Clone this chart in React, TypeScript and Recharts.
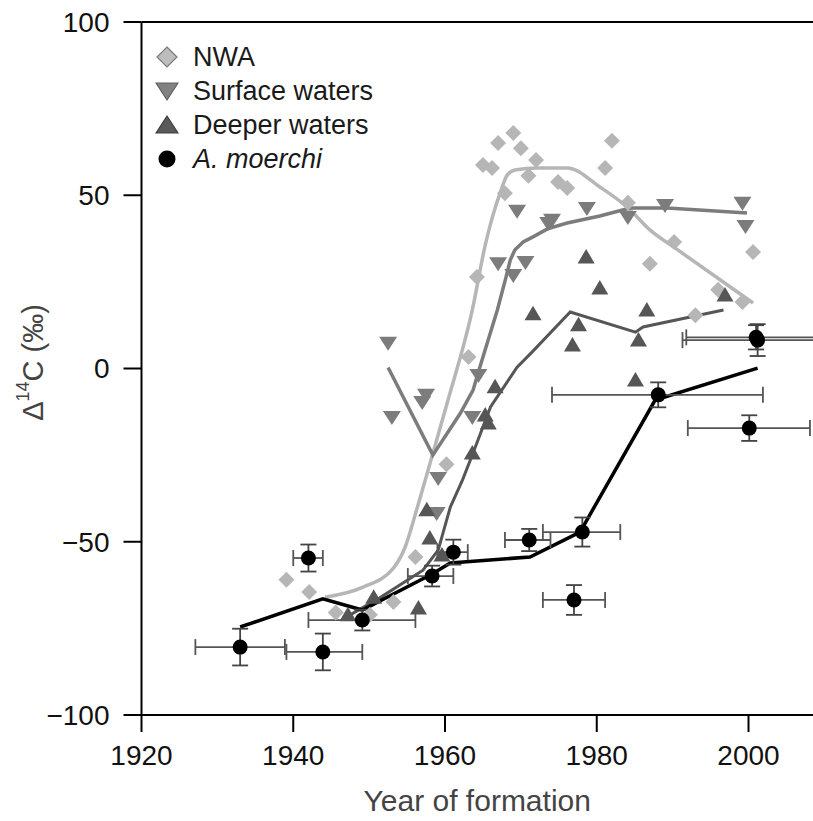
import React from 'react';
import {
  ComposedChart,
  XAxis,
  YAxis,
  Scatter,
  Line,
  ErrorBar,
  ReferenceLine,
  Legend,
} from 'recharts';

// ---------- data ----------
const xTicks = [1920, 1940, 1960, 1980, 2000];
const yTicks = [-100, -50, 0, 50, 100];

// NWA (diamonds)
const nwaYears = [1939.1, 1942.1, 1945.6, 1950.1, 1953.2, 1956.1, 1960.2, 1963.1, 1964.2, 1965.0, 1966.2, 1967.0, 1967.9, 1969.0, 1970.0, 1971.0, 1972.0, 1974.9, 1976.1, 1981.1, 1982.0, 1984.1, 1987.0, 1990.2, 1993.0, 1996.0, 1999.2, 2000.6];
const nwaValues = [-61.0, -64.5, -70.4, -71.1, -67.4, -54.4, -27.6, 3.3, 26.4, 58.7, 57.9, 65.1, 50.6, 68.0, 63.6, 55.6, 60.2, 53.8, 52.1, 57.9, 65.7, 47.8, 30.2, 36.5, 15.4, 22.7, 19.2, 33.6];

// Surface waters (down triangles)
const surfYears = [1952.5, 1953.0, 1957.0, 1957.5, 1958.9, 1959.1, 1963.6, 1964.4, 1967.0, 1969.0, 1969.5, 1970.6, 1973.6, 1974.1, 1978.7, 1984.1, 1989.0, 1999.2, 1999.6];
const surfValues = [7.4, -14.0, -9.7, -7.6, -41.7, -31.6, -14.0, -1.9, 30.4, 27.0, 45.5, 30.7, 42.0, 42.9, 46.3, 43.7, 47.2, 47.8, 41.1];

// Deeper waters (up triangles)
const deepYears = [1947.2, 1950.6, 1956.5, 1957.6, 1958.0, 1959.6, 1963.6, 1965.3, 1965.7, 1966.6, 1971.6, 1976.8, 1977.6, 1978.6, 1980.4, 1985.1, 1985.5, 1986.6, 1996.9];
const deepValues = [-71.1, -66.0, -69.1, -40.8, -48.9, -53.8, -24.4, -13.4, -15.7, -5.3, 15.8, 6.8, 12.6, 32.2, 23.2, -3.3, 8.2, 16.9, 21.2];

// A. moerchi (circles with error bars)
const amYears = [1933.0, 1943.9, 1942.0, 1949.1, 1958.3, 1961.1, 1971.1, 1978.1, 1977.0, 1988.1, 2000.1, 2001.2, 2001.0];
const amValues = [-80.4, -81.8, -54.7, -72.6, -59.9, -53.0, -49.5, -47.2, -66.8, -7.6, -17.2, 8.2, 9.0];
const amXErrMinus = [5.9, 4.8, 2.0, 7.1, 3.2, 2.1, 3.2, 5.2, 4.1, 14.0, 8.1, 9.9, 9.2];
const amXErrPlus = [5.9, 5.2, 1.9, 7.0, 2.8, 1.9, 2.8, 5.0, 4.1, 13.8, 8.0, 10.0, 10.0];
const amYErr = [5.3, 5.3, 3.9, 3.0, 3.0, 3.6, 3.2, 4.2, 4.3, 3.6, 3.7, 4.6, 3.5];

// Fitted curves
const nwaLineYears = [1944.2, 1949.2, 1953.2, 1954.7, 1956.3, 1958.4, 1960.4, 1963.6, 1965.3, 1967.3, 1968.2, 1969.2, 1972.1, 1976.1, 1980.4, 1984.0, 1987.0, 1990.3, 2000.6];
const nwaLineValues = [-66.0, -63.1, -57.6, -51.8, -40.5, -24.5, -9.1, 16.9, 35.6, 50.9, 55.8, 57.3, 57.9, 57.9, 52.4, 46.6, 40.0, 34.8, 18.9];

const surfLineYears = [1952.5, 1958.4, 1962.0, 1963.7, 1964.6, 1966.9, 1968.0, 1968.6, 1969.2, 1970.3, 1971.6, 1973.5, 1976.1, 1980.4, 1984.4, 1989.3, 1999.8];
const surfLineValues = [0.3, -25.0, -13.0, -6.2, 0.4, 16.9, 26.0, 31.3, 34.2, 36.5, 38.0, 40.3, 42.0, 44.0, 46.3, 46.3, 44.9];

const deepLineYears = [1947.5, 1951.4, 1957.1, 1959.1, 1960.7, 1962.3, 1963.7, 1966.0, 1969.5, 1971.5, 1976.5, 1985.1, 1986.1, 1996.7];
const deepLineValues = [-71.1, -66.2, -58.2, -52.4, -40.0, -32.2, -24.4, -11.1, 0.4, 4.8, 16.3, 10.5, 12.0, 16.9];

const amLineYears = [1933.0, 1943.9, 1949.1, 1958.3, 1960.7, 1971.2, 1977.8, 1987.7, 2001.2];
const amLineValues = [-74.6, -66.5, -69.7, -59.3, -56.1, -54.4, -47.2, -9.1, 0.1];

const legendNames = ['NWA', 'Surface waters', 'Deeper waters', 'A. moerchi'];

// ---------- helpers ----------
const zip = (xs: number[], ys: number[]) => xs.map((x, i) => ({ x, y: ys[i] }));

const nwaData = zip(nwaYears, nwaValues);
const surfData = zip(surfYears, surfValues);
const deepData = zip(deepYears, deepValues);
const amData = amYears.map((x, i) => ({
  x,
  y: amValues[i],
  ex: [amXErrMinus[i], amXErrPlus[i]],
  ey: amYErr[i],
}));
const nwaLine = zip(nwaLineYears, nwaLineValues);
const surfLine = zip(surfLineYears, surfLineValues);
const deepLine = zip(deepLineYears, deepLineValues);
const amLine = zip(amLineYears, amLineValues);

const FONT = '"Liberation Sans", Arial, Helvetica, sans-serif';
const C_NWA = '#b6b6b6';
const C_SURF = '#7c7c7c';
const C_DEEP = '#565656';

const fmtMinus = (v: number) => String(v).replace('-', '\u2212');

const DiamondShape = (p: any) => {
  const { cx, cy } = p;
  const r = 8;
  return <polygon points={`${cx},${cy - r} ${cx + r},${cy} ${cx},${cy + r} ${cx - r},${cy}`} fill={C_NWA} />;
};
const DownTri = (p: any) => {
  const { cx, cy } = p;
  return <polygon points={`${cx - 9},${cy - 6} ${cx + 9},${cy - 6} ${cx},${cy + 8}`} fill={C_SURF} />;
};
const UpTri = (p: any) => {
  const { cx, cy } = p;
  return <polygon points={`${cx - 8.5},${cy + 6.5} ${cx + 8.5},${cy + 6.5} ${cx},${cy - 8}`} fill={C_DEEP} />;
};
const Dot = (p: any) => {
  const { cx, cy } = p;
  return <circle cx={cx} cy={cy} r={7.5} fill="#000" />;
};

const LegendIcon = ({ i }: { i: number }) => {
  if (i === 0)
    return (
      <svg width={24} height={24}>
        <polygon points="12,2 22,12 12,22 2,12" fill="#bdbdbd" stroke="#7a7a7a" strokeWidth={1.2} />
      </svg>
    );
  if (i === 1)
    return (
      <svg width={24} height={24}>
        <polygon points="1,4 23,4 12,21" fill="#828282" stroke="#5e5e5e" strokeWidth={1.2} />
      </svg>
    );
  if (i === 2)
    return (
      <svg width={24} height={24}>
        <polygon points="1,20 23,20 12,3" fill="#5a5a5a" stroke="#3e3e3e" strokeWidth={1.2} />
      </svg>
    );
  return (
    <svg width={24} height={24}>
      <circle cx={12} cy={12} r={8.5} fill="#000" />
    </svg>
  );
};

const LegendContent = () => (
  <div style={{ fontFamily: FONT, fontSize: 27, color: '#1a1a1a' }}>
    {legendNames.map((n, i) => (
      <div key={n} style={{ display: 'flex', alignItems: 'center', height: 34 }}>
        <LegendIcon i={i} />
        <span style={{ marginLeft: 14, fontStyle: i === 3 ? 'italic' : 'normal', whiteSpace: 'nowrap' }}>{n}</span>
      </div>
    ))}
  </div>
);

const YLabel = (props: any) => {
  const vb = props.viewBox || {};
  const cx = 33;
  const cy = (vb.y ?? 22) + (vb.height ?? 693) / 2 - 6;
  return (
    <text
      x={cx}
      y={cy}
      transform={`rotate(-90 ${cx} ${cy})`}
      textAnchor="middle"
      dominantBaseline="central"
      fontSize={29}
      fontFamily={FONT}
      fill="#444"
    >
      Δ
      <tspan dy={-10} fontSize={18}>14</tspan>
      <tspan dy={10}>C (‰)</tspan>
    </text>
  );
};

export default function App() {
  return (
    <div style={{ position: 'absolute', left: 0, top: 0, width: 813, height: 821, background: '#fff' }}>
      <ComposedChart width={813} height={821} margin={{ top: 22, right: 0, bottom: 0, left: 0 }}>
        <XAxis
          type="number"
          dataKey="x"
          domain={[1920, 2008.5]}
          allowDataOverflow
          ticks={xTicks}
          height={106}
          tickSize={17}
          tickMargin={13}
          stroke="#000"
          strokeWidth={2}
          tick={{ fill: '#111', fontSize: 28, fontFamily: FONT }}
          label={{ value: 'Year of formation', position: 'insideBottom', offset: 10, fontSize: 30, fill: '#444', fontFamily: FONT }}
        />
        <YAxis
          type="number"
          dataKey="y"
          domain={[-100, 100]}
          allowDataOverflow
          ticks={yTicks}
          tickFormatter={fmtMinus}
          width={141.5}
          tickSize={18}
          tickMargin={14}
          stroke="#000"
          strokeWidth={2}
          tick={{ fill: '#111', fontSize: 28, fontFamily: FONT }}
          label={<YLabel />}
        />
        <ReferenceLine y={100} stroke="#000" strokeWidth={2} />
        <Legend
          layout="vertical"
          align="center"
          verticalAlign="middle"
          content={<LegendContent />}
          wrapperStyle={{ left: 155, top: 40, width: 260, height: 140 }}
        />
        <Scatter name="NWA" data={nwaData} dataKey="y" shape={<DiamondShape />} isAnimationActive={false} />
        <Scatter name="Surface waters" data={surfData} dataKey="y" shape={<DownTri />} isAnimationActive={false} />
        <Scatter name="Deeper waters" data={deepData} dataKey="y" shape={<UpTri />} isAnimationActive={false} />
        <Line data={nwaLine} dataKey="y" type="monotone" stroke={C_NWA} strokeWidth={3.5} dot={false} isAnimationActive={false} />
        <Line data={surfLine} dataKey="y" type="linear" stroke={C_SURF} strokeWidth={3.5} dot={false} isAnimationActive={false} />
        <Line data={deepLine} dataKey="y" type="linear" stroke={C_DEEP} strokeWidth={3} dot={false} isAnimationActive={false} />
        <Line data={amLine} dataKey="y" type="linear" stroke="#000" strokeWidth={3.5} dot={false} isAnimationActive={false} />
        <Scatter name="A. moerchi" data={amData} dataKey="y" shape={<Dot />} isAnimationActive={false}>
          <ErrorBar dataKey="ex" direction="x" width={8} stroke="#555" strokeWidth={1.8} />
          <ErrorBar dataKey="ey" direction="y" width={8} stroke="#444" strokeWidth={1.8} />
        </Scatter>
      </ComposedChart>
    </div>
  );
}
